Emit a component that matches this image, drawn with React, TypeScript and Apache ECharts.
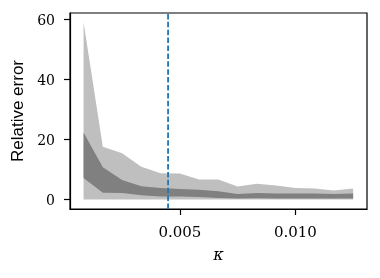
import React, { useEffect, useRef } from "react";
import * as echarts from "echarts";

const kappa = [0.000833, 0.001667, 0.0025, 0.003333, 0.004167, 0.005, 0.005833, 0.006667, 0.0075, 0.008333, 0.009167, 0.01, 0.010833, 0.011667, 0.0125];
const lightLow = [0.1, 0.05, 0.05, 0.05, 0.05, 0.05, 0.05, 0.05, 0.05, 0.05, 0.05, 0.05, 0.05, 0.05, 0.05];
const lightHigh = [59.1, 17.6, 15.5, 11.0, 8.8, 8.7, 6.7, 6.7, 4.4, 5.3, 4.7, 3.9, 3.7, 3.1, 3.7];
const darkLow = [7.2, 2.3, 2.2, 1.5, 1.1, 1.1, 0.9, 0.6, 0.4, 0.5, 0.4, 0.4, 0.4, 0.4, 0.4];
const darkHigh = [22.4, 10.8, 6.6, 4.5, 3.9, 3.6, 3.3, 2.8, 1.9, 2.2, 2.1, 2.1, 2.1, 1.9, 2.1];
const xTicks = [0.005, 0.01];
const yTicks = [0, 20, 40, 60];
const threshold = 0.00449;
const X_MIN = 0.000246;
const X_MAX = 0.0131;
const Y_MIN = -3.1;
const Y_MAX = 62.2;

const LIGHT = "#bfbfbf";
const DARK = "#808080";

function band(name: string, low: number[], high: number[], color: string, z: number) {
  return {
    type: "custom" as const,
    name,
    z,
    silent: true,
    data: kappa.map((k, i) => [k, low[i], high[i]]),
    encode: { x: 0, y: [1, 2] },
    renderItem: (params: any, api: any) => {
      if (params.dataIndex !== 0) return null;
      const top = kappa.map((k, i) => api.coord([k, high[i]]));
      const bot = kappa.map((k, i) => api.coord([k, low[i]])).reverse();
      return {
        type: "polygon",
        shape: { points: top.concat(bot) },
        style: { fill: color, stroke: null },
      };
    },
  };
}

export default function App() {
  const ref = useRef<HTMLDivElement>(null);
  useEffect(() => {
    if (!ref.current) return;
    const chart = echarts.init(ref.current, null, { renderer: "svg" });
    chart.setOption({
      animation: false,
      grid: {
        left: 70,
        right: 13,
        top: 13,
        bottom: 69,
        show: true,
        borderColor: "#000",
        borderWidth: 1.2,
        backgroundColor: "transparent",
      },
      xAxis: {
        type: "value",
        min: X_MIN,
        max: X_MAX,
        splitLine: { show: false },
        axisLine: { show: true, onZero: false, lineStyle: { color: "#000", width: 1.2 } },
        axisTick: { show: true, customValues: xTicks, length: 6, lineStyle: { color: "#000", width: 1.2 } },
        axisLabel: {
          customValues: xTicks,
          formatter: (v: number) => v.toFixed(3),
          color: "#000",
          fontFamily: "DejaVu Serif",
          fontSize: 15,
          margin: 15,
        },
        name: "κ",
        nameLocation: "middle",
        nameGap: 37,
        nameTextStyle: { color: "#000", fontFamily: "DejaVu Serif", fontStyle: "italic", fontSize: 16 },
      },
      yAxis: {
        type: "value",
        min: Y_MIN,
        max: Y_MAX,
        splitLine: { show: false },
        axisLine: { show: true, onZero: false, lineStyle: { color: "#000", width: 1.2 } },
        axisTick: { show: true, customValues: yTicks, length: 6, lineStyle: { color: "#000", width: 1.2 } },
        axisLabel: {
          customValues: yTicks,
          color: "#000",
          fontFamily: "DejaVu Serif",
          fontSize: 14,
          margin: 15,
        },
        name: "Relative error",
        nameLocation: "middle",
        nameRotate: 90,
        nameGap: 41,
        nameTextStyle: { color: "#000", fontFamily: "Liberation Sans", fontSize: 17 },
      },
      series: [
        band("range", lightLow, lightHigh, LIGHT, 2),
        band("iqr", darkLow, darkHigh, DARK, 3),
        {
          type: "line",
          name: "threshold",
          z: 4,
          silent: true,
          symbol: "none",
          showSymbol: false,
          data: [[threshold, Y_MIN], [threshold, Y_MAX]],
          lineStyle: { color: "#1f77b4", width: 1.8, type: [5.5, 2.4] },
        },
      ],
    });
    return () => chart.dispose();
  }, []);
  return <div ref={ref} style={{ position: "fixed", left: 0, top: 0, width: 380, height: 278 }} />;
}
